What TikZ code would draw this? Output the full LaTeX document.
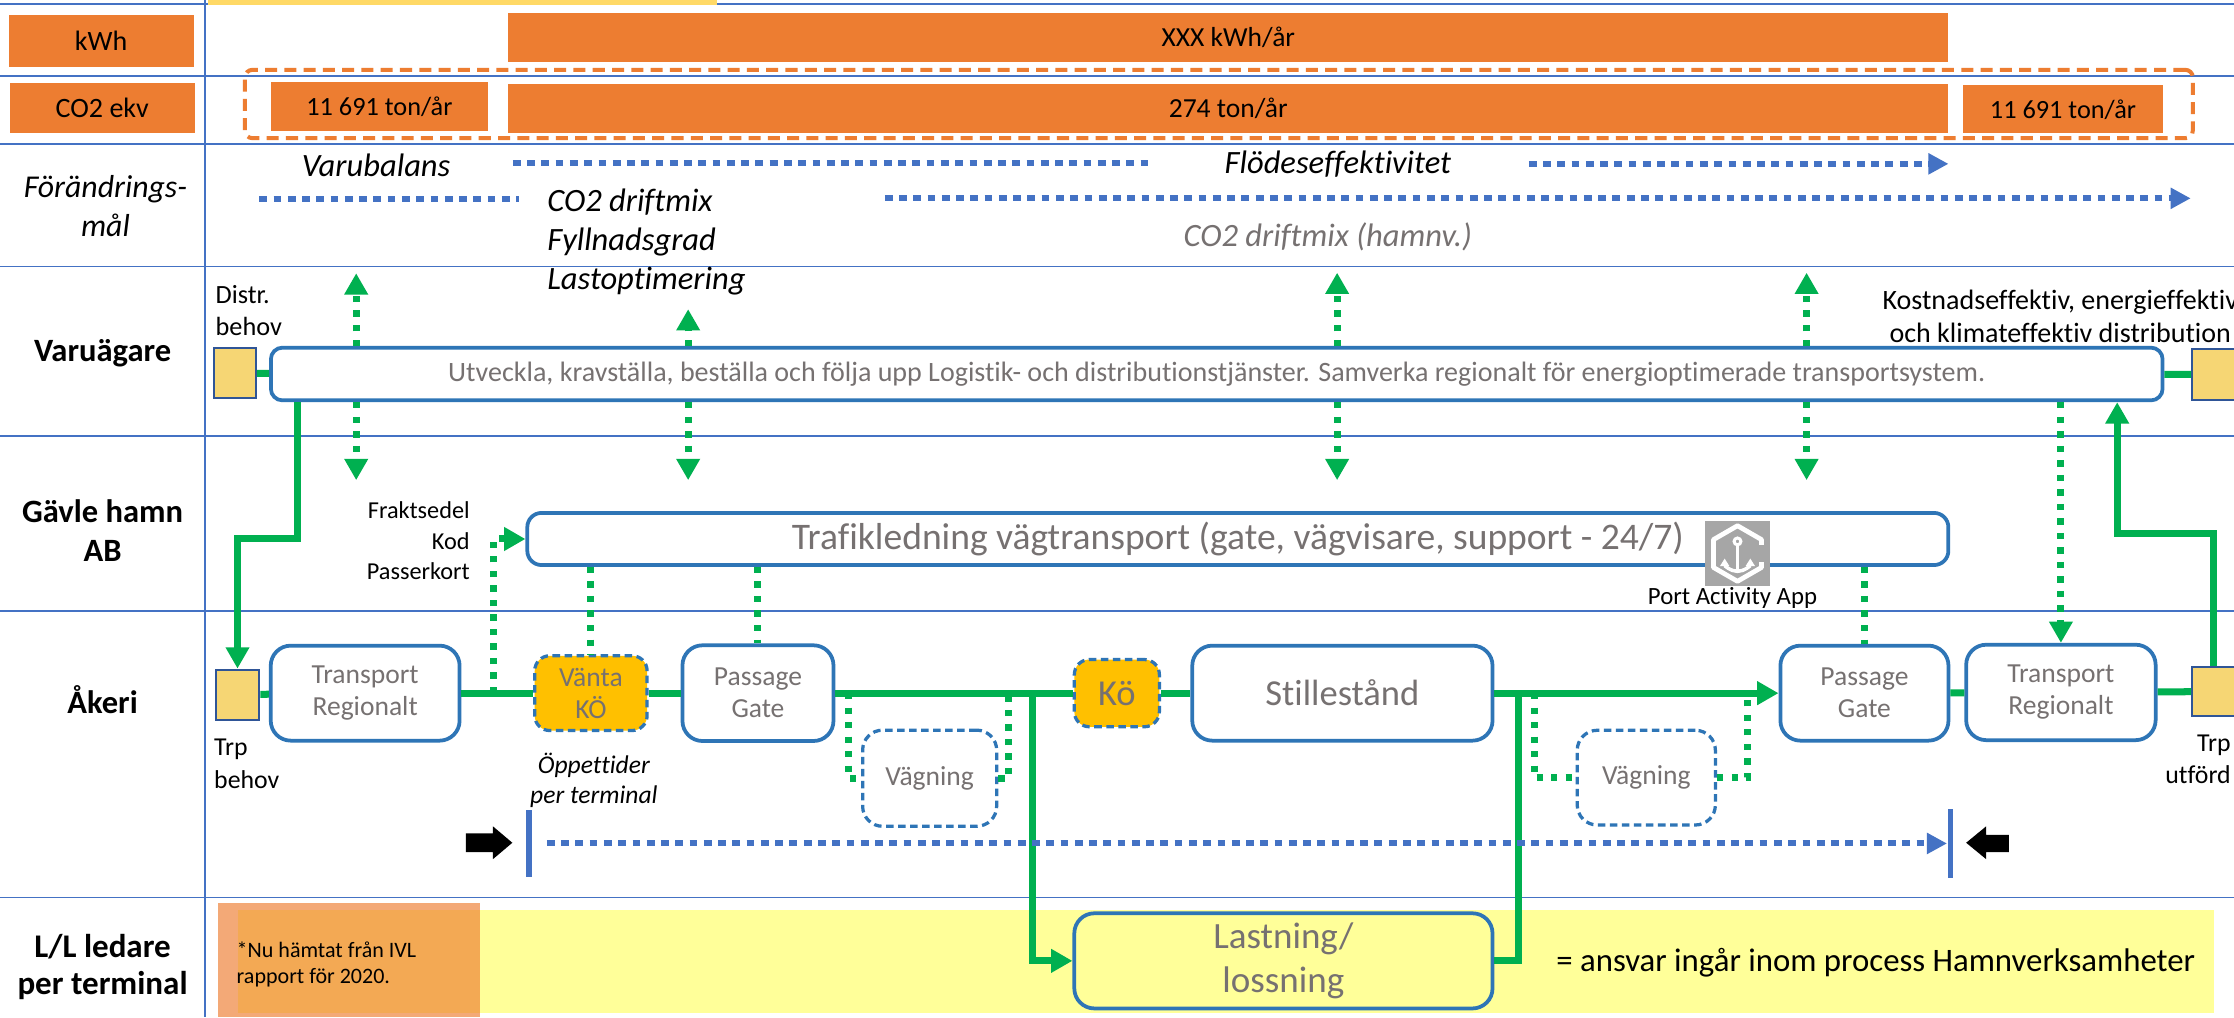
\documentclass[tikz,border=0pt]{standalone}
\usepackage{fontspec}
\setmainfont{Carlito}[Ligatures=NoCommon]
\usepackage{tikz}
\usetikzlibrary{arrows.meta, positioning}
\usepackage{xcolor}

\definecolor{gridblue}{RGB}{68,114,196}
\definecolor{boxblue}{RGB}{46,117,182}
\definecolor{sqblue}{RGB}{47,85,151}
\definecolor{orangec}{RGB}{237,125,49}
\definecolor{greenc}{RGB}{0,176,80}
\definecolor{txtgray}{RGB}{118,113,113}
\definecolor{sqyellow}{RGB}{246,214,116}
\definecolor{amber}{RGB}{255,192,0}
\definecolor{bandyellow}{RGB}{255,255,153}
\definecolor{appgray}{RGB}{166,166,166}
\definecolor{stripyellow}{RGB}{255,217,102}

\newcommand{\setfs}[2]{\fontsize{#1}{#2}\selectfont}

\tikzset{
  rowline/.style={draw=gridblue, line width=0.7pt},
  rowlabel/.style={font=\setfs{13}{15.4}\bfseries, align=center},
  valbox/.style={fill=orangec, inner sep=0pt, font=\setfs{11}{12}},
  procbox/.style={draw=boxblue, line width=1.5pt, rounded corners=8pt, fill=white, text=txtgray,
    align=center, inner sep=0pt, font=\setfs{11}{12.8}},
  barbox/.style={procbox, rounded corners=5pt},
  waitbox/.style={procbox, fill=amber, rounded corners=6pt, dash pattern=on 3pt off 1.8pt, line width=1.3pt},
  weighbox/.style={procbox, dash pattern=on 3pt off 1.8pt, line width=1.3pt},
  needbox/.style={draw=sqblue, fill=sqyellow, line width=0.8pt, inner sep=0pt},
  flow/.style={draw=greenc, line width=2.8pt},
  flowtip/.style={flow, -{Triangle[width=9pt,length=8.5pt]}},
  info/.style={draw=greenc, line width=2.8pt, dash pattern=on 2.5pt off 3.3pt},
  infotip/.style={info, -{Triangle[width=9pt,length=8.5pt]}},
  goal/.style={draw=gridblue, line width=2.4pt, dash pattern=on 3.1pt off 2.6pt},
  goaltip/.style={goal, -{Triangle[width=8pt,length=8pt]}},
  goaltext/.style={font=\setfs{13}{15.6}\itshape, align=left, inner sep=0pt},
  note/.style={font=\setfs{10.3}{13}, align=left, inner sep=0pt},
}

\begin{document}
\begin{tikzpicture}[x=0.02cm,y=-0.02cm]
\useasboundingbox (0,0) rectangle (1568,714);
\clip (0,0) rectangle (1568,714);
\fill[white] (0,0) rectangle (1568,714);

% rows and columns
\foreach \y in {2.8,53.4,101,187,306,429,630}
  \draw[rowline] (0,\y) -- (1568,\y);
\draw[rowline] (144,0) -- (144,714);
\fill[stripyellow] (146,0) rectangle (503,3.5);

% bottom band
\node (band) [fill=bandyellow, inner sep=0pt, minimum width=27.74cm, minimum height=1.44cm] at (860.5,675) {};
\node (ivlbox) [fill=orangec, fill opacity=0.66, inner sep=0pt, minimum width=3.68cm, minimum height=1.6cm] at (245,674) {};
\node (ivlnote) [note, font=\setfs{8.8}{10.2}, anchor=west] at (165.8,677) {*Nu hämtat från IVL\\rapport för 2020.};
\node (legend) [font=\setfs{13.1}{16}] at (1316.5,676) {= ansvar ingår inom process Hamnverksamheter};

% row labels
\node (lblkwh) [valbox, font=\setfs{11.2}{12}, minimum width=2.6cm, minimum height=0.73cm] at (71,28.8) {kWh};
\node (lblco2) [valbox, font=\setfs{11.2}{12}, minimum width=2.6cm, minimum height=0.71cm] at (71.8,75.8) {CO2 ekv};
\node (lblgoal) [font=\setfs{12.7}{15.4}\itshape, align=center] at (74,144.5) {Förändrings-\\mål};
\node (lblowner) [rowlabel] at (72,248) {Varuägare};
\node (lblport) [rowlabel] at (72,372.5) {Gävle hamn\\AB};
\node (lblhaul) [rowlabel] at (72,491) {Åkeri};
\node (lblll) [rowlabel, font=\setfs{13.2}{14.8}\bfseries] at (72,678.6) {L/L ledare\\per terminal};

% kWh and CO2
\node (kwhbar) [valbox, minimum width=20.22cm, minimum height=0.678cm] at (862.1,26.4) {XXX kWh/år};
\node (co2frame) [draw=orangec, line width=1.6pt, dash pattern=on 4.8pt off 2.9pt, rounded corners=3pt,
  minimum width=27.348cm, minimum height=0.96cm] at (855.5,73) {};
\node (co2a) [valbox, font=\setfs{10.5}{12}, minimum width=3.042cm, minimum height=0.682cm] at (266.3,74.7) {11 691 ton/år};
\node (co2b) [valbox, minimum width=20.22cm, minimum height=0.68cm] at (862.1,76) {274 ton/år};
\node (co2c) [valbox, font=\setfs{10.5}{12}, minimum width=2.8cm, minimum height=0.678cm] at (1448,76.7) {11 691 ton/år};

% goals
\node (gbalance) [goaltext] at (264,116) {Varubalans};
\node (gflow) [goaltext] at (939,115) {Flödeseffektivitet};
\node (gload) [goaltext, anchor=west] at (383.8,170) {CO2 driftmix\\Fyllnadsgrad\\Lastoptimering};
\node (gport) [goaltext, text=txtgray] at (932,166) {CO2 driftmix (hamnv.)};
\draw[goal] (182,139.5) -- (364,139.5);
\draw[goal] (360,114.7) -- (806,114.7);
\draw[goaltip] (1073,115) -- (1367.6,115);
\draw[goaltip] (621,139.2) -- (1537.6,139.2);

% Varuägare
\node (distrtxt) [note, font=\setfs{10.5}{12.5}, anchor=west] at (151,218) {Distr.\\behov};
\node (costtxt) [note, font=\setfs{11.2}{13.3}, align=center] at (1446,222) {Kostnadseffektiv, energieffektiv\\och klimateffektiv distribution};
\node (sqdist) [needbox, minimum width=0.592cm, minimum height=0.70cm] at (164.8,262) {};
\node (ownerbar) [barbox, rounded corners=4.6pt, font=\setfs{11.2}{13}, minimum width=26.56cm, minimum height=0.74cm] at (854,262.5)
  {Utveckla, kravställa, beställa och följa upp Logistik- och distributionstjänster. Samverka regionalt för energioptimerade transportsystem.};
\node (sqdeliv) [needbox, minimum width=0.6cm, minimum height=0.728cm] at (1553.6,262.8) {};
\draw[flow] (sqdist) -- (ownerbar);
\draw[flow] (ownerbar) -- (sqdeliv);

\foreach \nm/\x/\yt in {a/250/191.8, b/483/217, c/938.5/191.4, d/1268/191.4} {
  \coordinate (up\nm) at (\x,\yt);
  \coordinate (dn\nm) at (\x,337);
  \draw[infotip] (ownerbar.north -| up\nm) -- (up\nm);
  \draw[infotip] (ownerbar.south -| dn\nm) -- (dn\nm);
}

% Gävle hamn
\node (passtxt) [note, font=\setfs{9.7}{12.3}, align=right, anchor=east] at (330,379.6) {Fraktsedel\\Kod\\Passerkort};
\node (trafficbar) [barbox, rounded corners=5.7pt, font=\setfs{15}{16}, minimum width=19.952cm, minimum height=0.732cm] at (868.8,378.3)
  {Trafikledning vägtransport (gate, vägvisare, support - 24/7)};
\node (appicon) [fill=appgray, inner sep=0pt, minimum size=0.9cm] at (1219.5,388.5) {};
\begin{scope}[shift={(appicon.center)}]
  \draw[white, line width=1.9pt, line join=round] (16.9,-6) -- (16.9,-9.75) -- (0,-19.5) -- (-16.9,-9.75)
    -- (-16.9,9.75) -- (0,19.5) -- (16.9,9.75) -- (16.9,6);
  \draw[white, line width=1.2pt] (0,-8.5) circle (2.4);
  \draw[white, line width=1.4pt] (0,-6.1) -- (0,12.5);
  \draw[white, line width=1.4pt, {Triangle[width=3.5pt,length=3pt]}-{Triangle[width=3.5pt,length=3pt]}]
    (-9,3.5) arc[start angle=180, end angle=0, radius=9];
\end{scope}
\node (applabel) [font=\setfs{9.9}{12}] at (1216,420) {Port Activity App};

% Åkeri
\node (sqtrp) [needbox, minimum width=0.612cm, minimum height=0.702cm] at (166.7,487.5) {};
\node (needtxt) [note, anchor=west] at (150,536) {Trp\\behov};
\node (trreg1) [procbox, minimum width=2.652cm, minimum height=1.334cm] at (256.3,486.5) {Transport\\Regionalt};
\node (wait) [waitbox, minimum width=1.578cm, minimum height=1.05cm] at (414.75,486.5) {Vänta\\KÖ};
\node (opentxt) [font=\setfs{10.2}{12}\itshape, align=center] at (416.8,547.5) {Öppettider\\per terminal};
\node (gate1) [procbox, minimum width=2.12cm, minimum height=1.344cm] at (532,486.5) {Passage\\Gate};
\node (weigh1) [weighbox, minimum width=1.882cm, minimum height=1.35cm] at (652.5,546.2) {Vägning};
\node (queue) [waitbox, font=\setfs{14.6}{16}, minimum width=1.194cm, minimum height=0.944cm] at (783.9,486.5) {Kö};
\node (standstill) [procbox, font=\setfs{14.6}{16}, minimum width=4.216cm, minimum height=1.334cm] at (942.2,486.5) {Stillestånd};
\node (weigh2) [weighbox, minimum width=1.94cm, minimum height=1.33cm] at (1155.5,545.8) {Vägning};
\node (gate2) [procbox, minimum width=2.36cm, minimum height=1.334cm] at (1308.6,486.5) {Passage\\Gate};
\node (trreg2) [procbox, minimum width=2.66cm, minimum height=1.34cm] at (1446.5,486) {Transport\\Regionalt};
\node (sqdone) [needbox, minimum width=0.612cm, minimum height=0.694cm] at (1553.9,485.4) {};
\node (donetxt) [note, align=right, anchor=east] at (1566,533) {Trp\\utförd};
\node (load) [procbox, fill=bandyellow, font=\setfs{14.8}{17.9}, minimum width=5.872cm, minimum height=1.336cm] at (900.8,674.4) {Lastning/\\lossning};

% main flow
\foreach \a/\b in {sqtrp/trreg1, trreg1/wait, wait/gate1, gate1/queue, queue/standstill, gate2/trreg2, trreg2/sqdone}
  \draw[flow] (\a) -- (\b);
\draw[flowtip] (standstill) -- (gate2);

\coordinate (splitdn) at (725,486.5);
\coordinate (joinup) at (1065.5,486.5);
\draw[flowtip] (splitdn) |- (load.west);
\draw[flow] (load.east) -| (joinup);

\coordinate (w1a) at (595.3,486.5);
\coordinate (w1b) at (708,486.5);
\coordinate (w2a) at (1076.7,486.5);
\coordinate (w2b) at (1226.5,486.5);
\draw[info] (w1a) |- (weigh1.west);
\draw[info] (weigh1.east) -| (w1b);
\draw[info] (w2a) |- (weigh2.west);
\draw[info] (weigh2.east) -| (w2b);

% between rows
\coordinate (lturn) at (208.5,377.8);
\draw[flowtip] (ownerbar.south -| lturn) -- (lturn) -| (sqtrp.north);
\coordinate (rturn) at (1486,374.4);
\draw[flowtip] (sqdone.north) |- (rturn) -- (ownerbar.south -| rturn);

\coordinate (docfork) at (346.4,486.5);
\draw[infotip] (docfork) |- (trafficbar.west);
\draw[info] (trafficbar.south -| wait.north) -- (wait.north);
\draw[info] (trafficbar.south -| gate1.north) -- (gate1.north);
\draw[info] (trafficbar.south -| gate2.north) -- (gate2.north);
\draw[infotip] (ownerbar.south -| trreg2.north) -- (trreg2.north);

% terminal span
\node (barl) [fill=gridblue, inner sep=0pt, minimum width=0.084cm, minimum height=0.928cm] at (371.4,592) {};
\node (barr) [fill=gridblue, inner sep=0pt, minimum width=0.084cm, minimum height=0.96cm] at (1369,592) {};
\draw[goaltip, shorten <=5.7pt] (barl) -- (barr);
\fill[black] (327,585) -- (346,585) -- (346,580) -- (359.6,591.5) -- (346,603) -- (346,598) -- (327,598) -- cycle;
\fill[black] (1410,586) -- (1394,586) -- (1394,580) -- (1380,591.5) -- (1394,603) -- (1394,598) -- (1410,598) -- cycle;
\end{tikzpicture}
\end{document}
